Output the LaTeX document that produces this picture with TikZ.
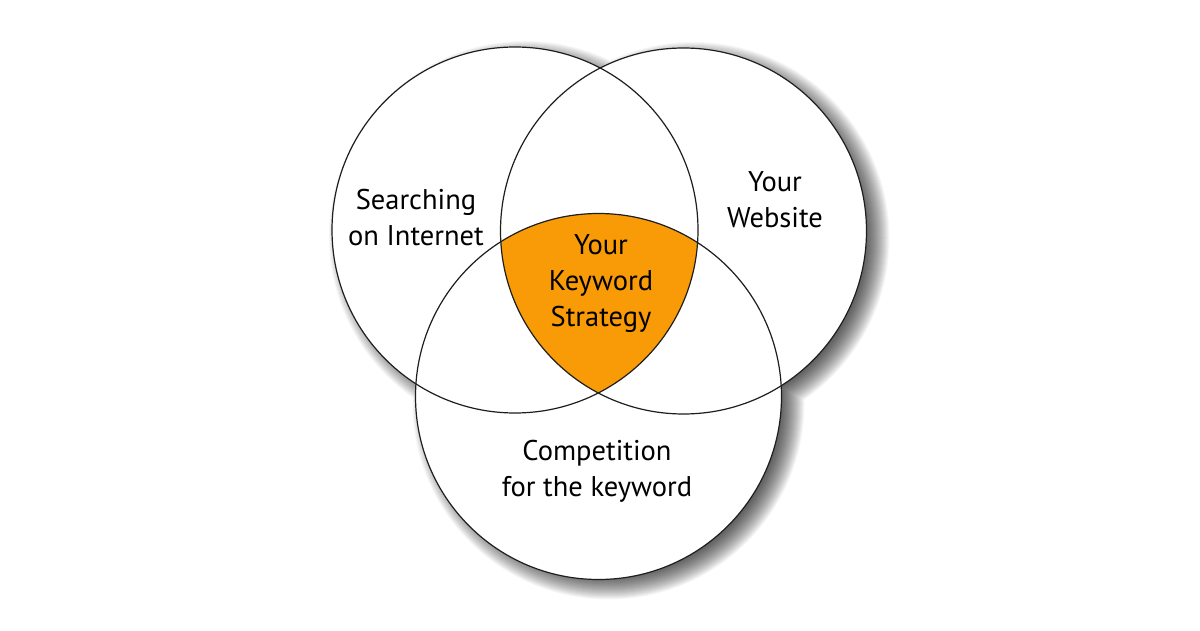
\documentclass[tikz,border=0pt]{standalone}
\usepackage{fontspec}
\setmainfont{PT Sans}
\usetikzlibrary{calc}
\definecolor{keyorange}{RGB}{249,155,6}
\definecolor{rimgray}{RGB}{30,30,30}

\begin{document}
\begin{tikzpicture}[x=1pt,y=1pt, every node/.style={font=\fontsize{28.5}{36}\selectfont, align=center, inner sep=0pt, text=black},
    rim/.style={draw=rimgray, line width=1.2pt}]
    \useasboundingbox[fill=white] (0,0) rectangle (1200,630);
    % circle centres
    \coordinate (search) at (515,400);
    \coordinate (site) at (683.5,399);
    \coordinate (compet) at (598.5,233.5);
    \def\rad{183}
    % soft drop shadow
    \foreach \k in {0,...,26} {
        \fill[black, opacity=0.035] ($(search)+(10,-7)$) circle (170+\k) ($(site)+(10,-7)$) circle (170+\k) ($(compet)+(10,-7)$) circle (170+\k);
    }
    \fill[white] (search) circle (\rad) (site) circle (\rad) (compet) circle (\rad);
    % common part
    \begin{scope}
        \clip (search) circle (\rad);
        \clip (site) circle (\rad);
        \fill[keyorange] (compet) circle (\rad);
    \end{scope}
    \draw[rim] (search) circle (\rad);
    \draw[rim] (site) circle (\rad);
    \draw[rim] (compet) circle (\rad);
    % labels
    \node (searchtext) at (416,412) {Searching\\on Internet};
    \node (sitetext) at (775,430) {Your\\Website};
    \node (strategy) at (601,346) {Your\\Keyword\\Strategy};
    \node (compettext) at (597,159) {Competition\\for the keyword};
\end{tikzpicture}
\end{document}
